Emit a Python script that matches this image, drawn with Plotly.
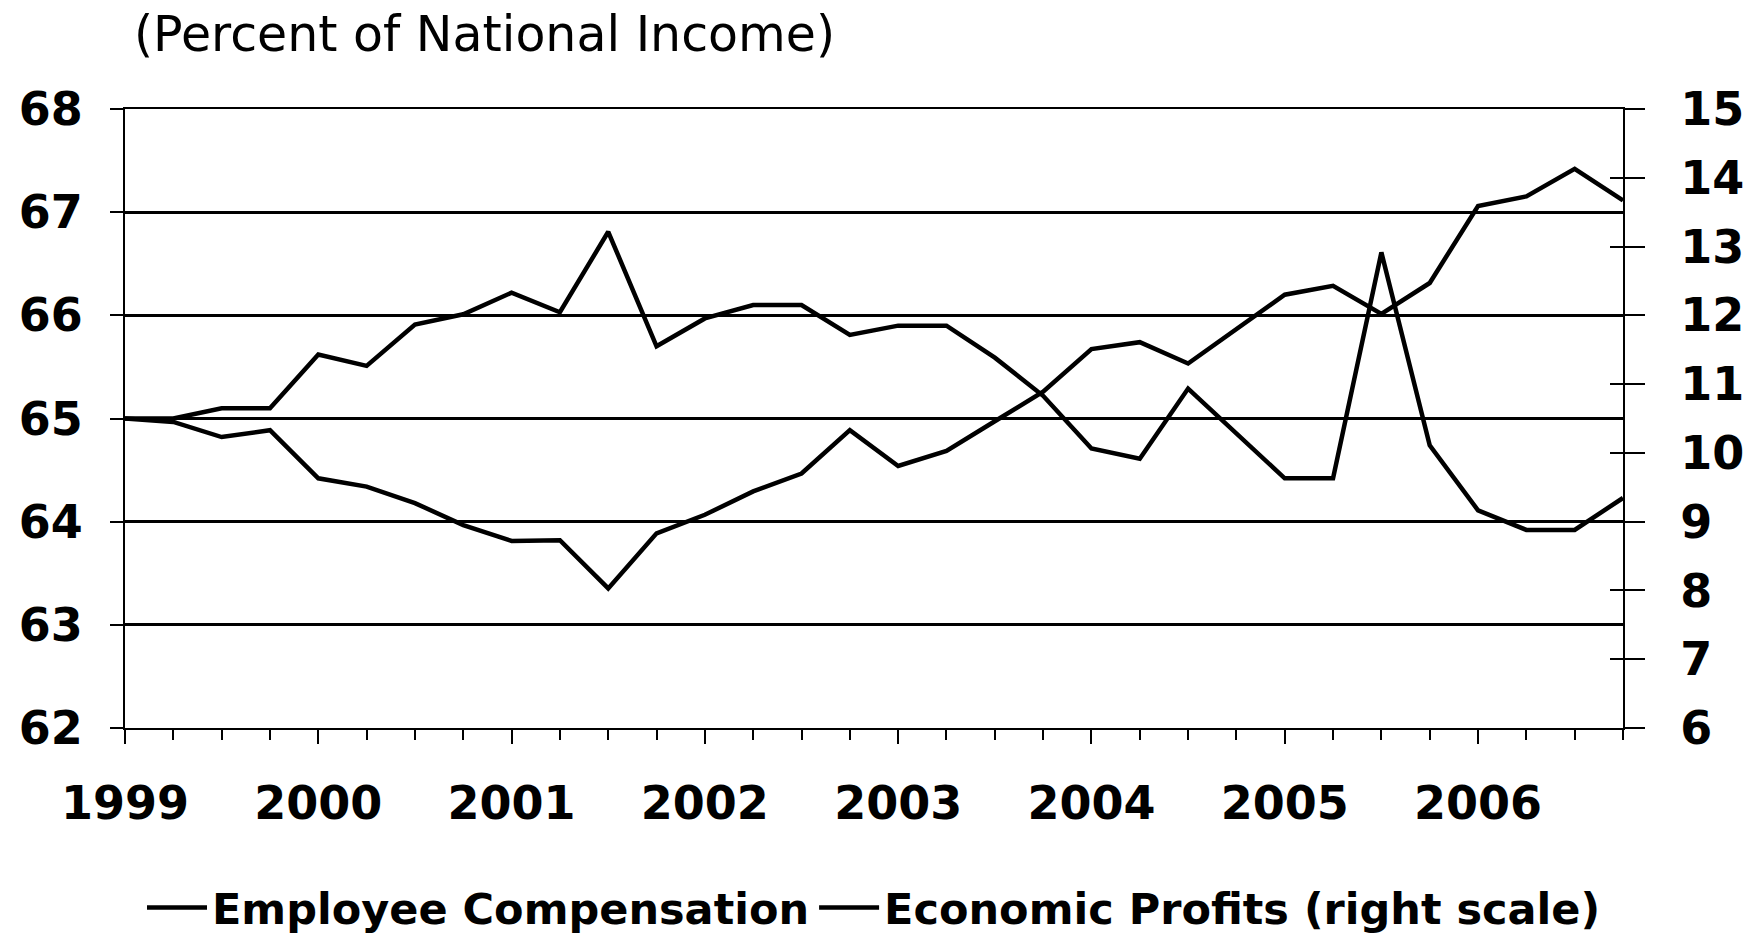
import plotly.graph_objects as go

# Quarterly periods, 1999Q1 - 2006Q4
periods = ["1999Q1", "1999Q2", "1999Q3", "1999Q4",
           "2000Q1", "2000Q2", "2000Q3", "2000Q4",
           "2001Q1", "2001Q2", "2001Q3", "2001Q4",
           "2002Q1", "2002Q2", "2002Q3", "2002Q4",
           "2003Q1", "2003Q2", "2003Q3", "2003Q4",
           "2004Q1", "2004Q2", "2004Q3", "2004Q4",
           "2005Q1", "2005Q2", "2005Q3", "2005Q4",
           "2006Q1", "2006Q2", "2006Q3", "2006Q4"]

# Employee compensation, percent of national income (left scale)
employee_comp = [65.0, 65.0, 65.1, 65.1, 65.62, 65.51, 65.91, 66.01,
                 66.22, 66.03, 66.81, 65.7, 65.97, 66.1, 66.1, 65.81,
                 65.9, 65.9, 65.59, 65.22, 64.71, 64.61, 65.29, 64.86,
                 64.42, 64.42, 66.61, 64.74, 64.11, 63.92, 63.92, 64.23]

# Economic profits, percent of national income (right scale)
economic_profits = [10.5, 10.45, 10.23, 10.33, 9.63, 9.51, 9.27, 8.95,
                    8.72, 8.73, 8.03, 8.83, 9.1, 9.44, 9.7, 10.33,
                    9.81, 10.03, 10.46, 10.89, 11.51, 11.61, 11.3, 11.81,
                    12.3, 12.43, 12.02, 12.47, 13.59, 13.73, 14.13, 13.67]

year_ticks = [1999, 2000, 2001, 2002, 2003, 2004, 2005, 2006]
year_labels = ["1999", "2000", "2001", "2002", "2003", "2004", "2005", "2006"]
left_ticks = [62, 63, 64, 65, 66, 67, 68]
right_ticks = [6, 7, 8, 9, 10, 11, 12, 13, 14, 15]

x_vals = [int(p[:4]) + (int(p[-1]) - 1) / 4 for p in periods]

FONT = "DejaVu Sans"
tick_font = dict(family=FONT, size=46, color="black", weight="bold")

fig = go.Figure()
fig.add_trace(go.Scatter(x=x_vals, y=employee_comp, mode="lines",
                         name="Employee Compensation",
                         line=dict(color="black", width=4.5), yaxis="y"))
fig.add_trace(go.Scatter(x=x_vals, y=economic_profits, mode="lines",
                         name="Economic Profits (right scale)",
                         line=dict(color="black", width=4.5), yaxis="y2"))

fig.update_layout(
    width=1748, height=939,
    margin=dict(l=125, r=125, t=109, b=211, autoexpand=False),
    paper_bgcolor="white", plot_bgcolor="white",
    title=dict(text="(Percent of National Income)", x=134 / 1748, xanchor="left",
               xref="container", y=1 - 34 / 939, yanchor="middle", yref="container",
               font=dict(family=FONT, size=49, color="black")),
    xaxis=dict(range=[1999, 2006.75], tickvals=year_ticks, ticktext=year_labels,
               showgrid=False, zeroline=False, showline=True, linecolor="black",
               linewidth=2, mirror=True, ticks="outside", ticklen=14, tickwidth=2,
               tickcolor="black", tickfont=tick_font, ticklabelstandoff=20,
               automargin=False,
               minor=dict(dtick=0.25, tick0=1999, ticks="outside", ticklen=10,
                          tickwidth=2, tickcolor="black", showgrid=False)),
    yaxis=dict(range=[62, 68], tickvals=left_ticks, showgrid=True, gridcolor="black",
               gridwidth=2.5, zeroline=False, showline=True, linecolor="black",
               linewidth=2, ticks="outside", ticklen=13, tickwidth=2,
               tickcolor="black", tickfont=tick_font, ticklabelstandoff=18,
               automargin=False),
    yaxis2=dict(range=[6, 15], tickvals=right_ticks, overlaying="y", side="right",
                anchor="x", showgrid=False, zeroline=False, showline=True,
                linecolor="black", linewidth=2, ticks="outside", ticklen=20,
                tickwidth=2, tickcolor="black", tickfont=tick_font,
                ticklabelstandoff=26, automargin=False),
    yaxis3=dict(range=[6, 15], tickvals=right_ticks, overlaying="y", side="right",
                anchor="x", showgrid=False, zeroline=False, showline=False,
                ticks="inside", ticklen=13, tickwidth=2, tickcolor="black",
                showticklabels=False, automargin=False),
    showlegend=True,
    legend=dict(orientation="h", x=0.5, xanchor="center", y=-0.29, yanchor="middle",
                font=dict(family=FONT, size=43, color="black", weight="bold"),
                bgcolor="rgba(0,0,0,0)", itemwidth=60, traceorder="normal"),
)

# dummy trace so the inside-tick axis is rendered
fig.add_trace(go.Scatter(x=[None], y=[None], yaxis="y3", showlegend=False,
                         hoverinfo="skip"))

fig.write_html("out.html", config={"displayModeBar": False},
               post_script="document.body.style.margin='0';")
